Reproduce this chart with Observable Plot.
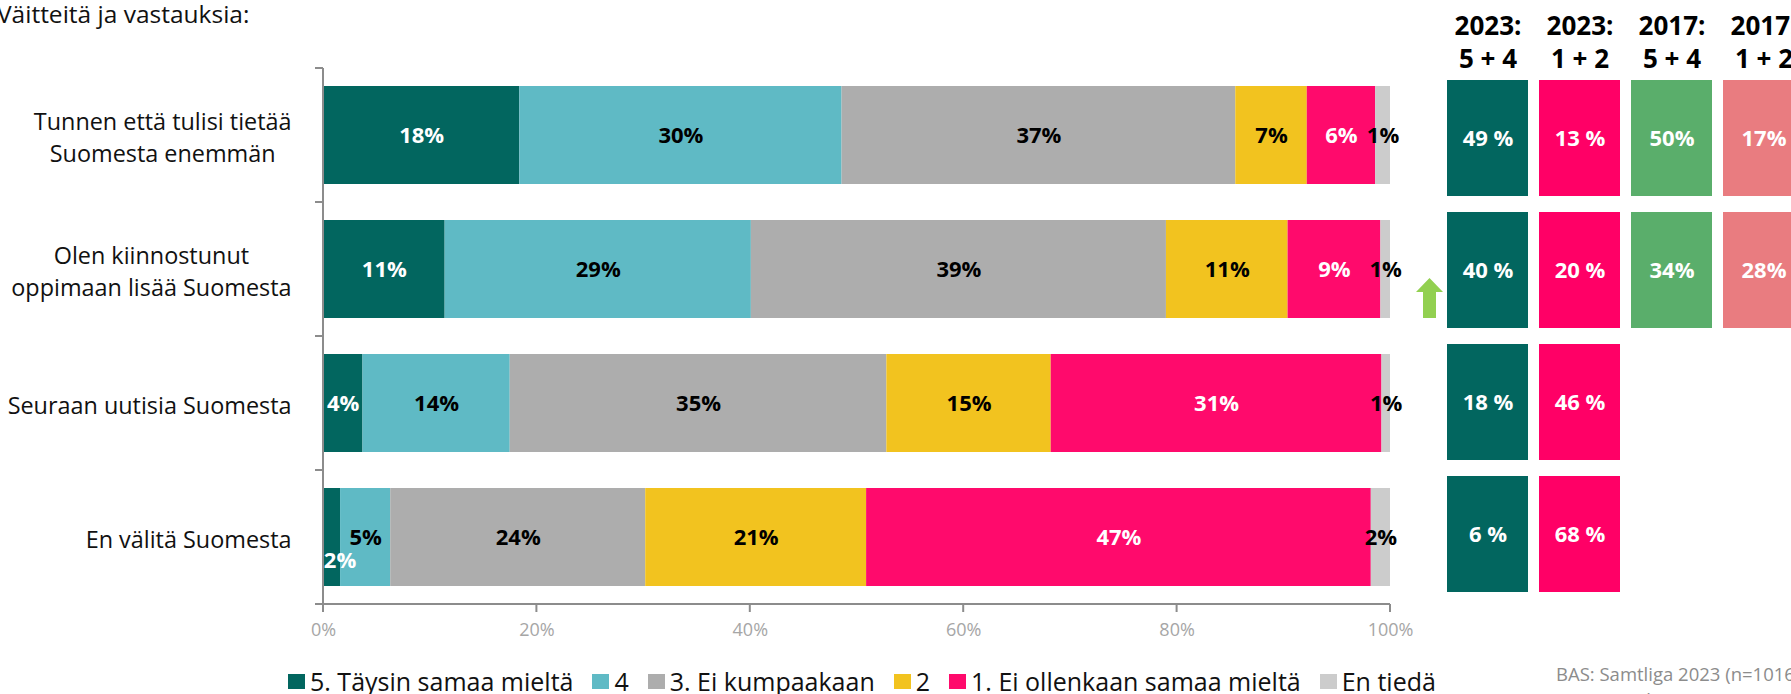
<!DOCTYPE html>
<html><head><meta charset="utf-8">
<script src="https://cdn.jsdelivr.net/npm/d3@7"></script>
<script src="https://cdn.jsdelivr.net/npm/@observablehq/plot@0.6"></script>
<style>
html,body{margin:0;padding:0;background:#fff;overflow:hidden;}
#root{position:relative;width:1791px;height:694px;overflow:hidden;font-family:"Open Sans",Lato,sans-serif;}
#root svg{max-width:none !important;}
.abs{position:absolute;}
#title{left:-3px;top:-3px;font-size:24.5px;color:#111;white-space:nowrap;}
#main{left:0;top:0;width:1400px;}
#side{left:1400px;top:0;width:420px;}
#legend{left:288px;top:667px;display:flex;align-items:center;font-size:25px;color:#111;white-space:nowrap;line-height:28px;}
.sw{display:inline-block;width:17px;height:15px;margin-right:5px;}
.item{display:flex;align-items:center;margin-right:19px;}
#foot{left:1556px;top:661px;font-size:18.5px;color:#8c8c8c;line-height:26px;white-space:nowrap;}
</style></head>
<body><div id="root">
<div id="title" class="abs">Väitteitä ja vastauksia:</div>
<div id="main" class="abs"></div>
<div id="side" class="abs"></div>
<div id="legend" class="abs"></div>
<div id="foot" class="abs">BAS: Samtliga 2023 (n=1016)<br><span style="padding-left:46px">Samtliga 2017 (n=1006)</span></div>
</div>
<script>
// ---- data ----
const categories = [
  "Tunnen että tulisi tietää\nSuomesta enemmän",
  "Olen kiinnostunut\noppimaan lisää Suomesta",
  "Seuraan uutisia Suomesta",
  "En välitä Suomesta"
];
const responses = ["5. Täysin samaa mieltä", "4", "3. Ei kumpaakaan", "2", "1. Ei ollenkaan samaa mieltä", "En tiedä"];
const responseColors = ["#02665f", "#5fbac5", "#adadad", "#f2c31f", "#ff0a6c", "#cccccc"];
const whiteLabelResponses = ["5. Täysin samaa mieltä", "1. Ei ollenkaan samaa mieltä"];
const r5 = [18.4, 11.4, 3.7, 1.6];
const r4 = [30.2, 28.7, 13.8, 4.7];
const r3 = [36.9, 38.9, 35.3, 23.9];
const r2 = [6.7, 11.4, 15.4, 20.7];
const r1 = [6.4, 8.7, 31.0, 47.3];
const rDontKnow = [1.4, 0.9, 0.8, 1.8];
const xTicks = [0, 20, 40, 60, 80, 100];

const summaryCols = ["2023:\n5 + 4", "2023:\n1 + 2", "2017:\n5 + 4", "2017:\n1 + 2"];
const summaryColors = ["#02665f", "#ff0066", "#5aae6b", "#e97c80"];
const pos2023 = ["49 %", "40 %", "18 %", "6 %"];
const neg2023 = ["13 %", "20 %", "46 %", "68 %"];
const pos2017 = ["50%", "34%", null, null];
const neg2017 = ["17%", "28%", null, null];

// ---- tables ----
const series = [r5, r4, r3, r2, r1, rDontKnow];
const table = [];
responses.forEach((r, i) => categories.forEach((c, j) => table.push({cat: c, resp: r, value: series[i][j]})));
const lbl = d => Math.round(d.value) + "%";
const isSpecial = d => d.resp === responses[0] && d.value < 3;

const summaryValues = [pos2023, neg2023, pos2017, neg2017];
const cellTable = [];
summaryCols.forEach((col, i) => summaryValues[i].forEach((v, j) => { if (v != null) cellTable.push({col, row: categories[j], label: v}); }));

const FONT = "'Open Sans', Lato, sans-serif";
const CAT_SIZE = 23.4;
const ctx = document.createElement("canvas").getContext("2d");
ctx.font = `${CAT_SIZE}px 'Open Sans'`;
const blockWidth = s => Math.max(...s.split("\n").map(l => ctx.measureText(l).width));

function axesMark(index, scales, values, dims) {
  const x = scales.x, y = scales.y;
  const g = d3.create("svg:g").attr("stroke", "#8c8c8c").attr("fill", "none").attr("stroke-width", 2);
  const step = y(categories[1]) - y(categories[0]);
  const bw = y.bandwidth();
  const top = y(categories[0]) - (step - bw) / 2;
  const bottom = y(categories[categories.length - 1]) + bw + (step - bw) / 2;
  const x0 = x(0), x1 = x(100);
  g.append("line").attr("x1", x0).attr("x2", x0).attr("y1", top).attr("y2", bottom);
  g.append("line").attr("x1", x0).attr("x2", x1).attr("y1", bottom).attr("y2", bottom);
  for (let k = 0; k <= categories.length; k++) {
    const yy = top + k * step;
    g.append("line").attr("x1", x0 - 8).attr("x2", x0).attr("y1", yy).attr("y2", yy);
  }
  for (const t of xTicks) {
    g.append("line").attr("x1", x(t)).attr("x2", x(t)).attr("y1", bottom).attr("y2", bottom + 8);
  }
  return g.node();
}

const labelStyle = {fontWeight: "bold", fontSize: 22};
const main = Plot.plot({
  width: 1400, height: 694,
  marginLeft: 323, marginRight: 10, marginTop: 67, marginBottom: 90,
  style: {fontFamily: FONT, fontSize: "18px", background: "transparent", color: "#a6a6a6", overflow: "visible"},
  x: {domain: [0, 100], ticks: xTicks, tickFormat: d => d + "%", tickSize: 0, tickPadding: 19, label: null},
  y: {domain: categories, paddingInner: 0.27, paddingOuter: 0.135, axis: null},
  color: {domain: responses, range: responseColors},
  marks: [
    Plot.barX(table, Plot.stackX({x: "value", y: "cat", fill: "resp"})),
    Plot.text(table, Plot.stackX({x: "value", y: "cat", text: d => (!isSpecial(d) && whiteLabelResponses.includes(d.resp)) ? lbl(d) : null, fill: "white", ...labelStyle})),
    Plot.text(table, Plot.stackX({x: "value", y: "cat", text: d => (!isSpecial(d) && !whiteLabelResponses.includes(d.resp)) ? lbl(d) : null, fill: "black", ...labelStyle})),
    Plot.text(table, Plot.stackX({x: "value", y: "cat", text: d => isSpecial(d) ? lbl(d) : null, fill: "white", ...labelStyle, dx: 8, dy: 23})),
    ...categories.map(c => Plot.text([c], {y: d => d, text: d => d, frameAnchor: "left", textAnchor: "middle", dx: -32 - blockWidth(c) / 2, fontSize: CAT_SIZE, lineHeight: 1.4, fill: "#111"})),
    axesMark
  ]
});
document.getElementById("main").appendChild(main);

function arrowMark(index, scales) {
  const x0 = scales.x(summaryCols[0]);
  const y0 = scales.y(categories[1]);
  const pts = [[x0 - 17.5, y0 + 66], [x0 - 4, y0 + 80], [x0 - 11, y0 + 80], [x0 - 11, y0 + 106], [x0 - 24, y0 + 106], [x0 - 24, y0 + 80], [x0 - 31, y0 + 80]];
  return d3.create("svg:path").attr("d", "M" + pts.join("L") + "Z").attr("fill", "#92d050").node();
}

const side = Plot.plot({
  width: 420, height: 694,
  marginLeft: 45, marginRight: 14, marginTop: 79, marginBottom: 100,
  style: {fontFamily: FONT, background: "transparent", overflow: "visible"},
  x: {domain: summaryCols, paddingInner: 0.118, paddingOuter: 0, axis: null},
  y: {domain: categories, paddingInner: 0.12, paddingOuter: 0, axis: null},
  color: {domain: summaryCols, range: summaryColors},
  marks: [
    Plot.cell(cellTable, {x: "col", y: "row", fill: "col"}),
    Plot.text(cellTable, {x: "col", y: "row", text: "label", fill: "white", fontWeight: "bold", fontSize: 22}),
    Plot.text(summaryCols, {x: d => d, text: d => d, frameAnchor: "top", lineAnchor: "bottom", dy: -12, fontSize: 26, fontWeight: "bold", lineHeight: 1.24, fill: "#000"}),
    arrowMark
  ]
});
document.getElementById("side").appendChild(side);

// legend
const legend = document.getElementById("legend");
responses.forEach((r, i) => {
  const item = document.createElement("span");
  item.className = "item";
  const sw = document.createElement("span");
  sw.className = "sw";
  sw.style.background = responseColors[i];
  item.appendChild(sw);
  item.appendChild(document.createTextNode(r));
  legend.appendChild(item);
});
</script></body></html>
